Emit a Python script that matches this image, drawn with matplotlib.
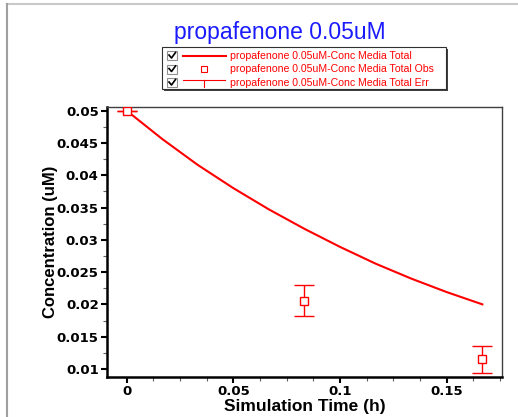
import matplotlib
matplotlib.use("Agg")
import matplotlib.pyplot as plt
from matplotlib.patches import Rectangle
from matplotlib.ticker import AutoMinorLocator

# simulated curve
sim_time = [0, 0.0167, 0.0333, 0.05, 0.0667, 0.0833, 0.1, 0.1167, 0.1333, 0.15, 0.1667]
sim_conc = [0.050, 0.0456, 0.0416, 0.0380, 0.0347, 0.0317, 0.0289, 0.0263, 0.0240, 0.0219, 0.0200]

# observations with error
obs_time = [0, 0.0833, 0.1667]
obs_conc = [0.050, 0.02055, 0.0115]
obs_err = [0, 0.0024, 0.0021]

title = "propafenone 0.05uM"
legend_labels = [
    "propafenone 0.05uM-Conc Media Total",
    "propafenone 0.05uM-Conc Media Total Obs",
    "propafenone 0.05uM-Conc Media Total Err",
]
x_ticks = [0, 0.05, 0.1, 0.15]
y_ticks = [0.01, 0.015, 0.02, 0.025, 0.03, 0.035, 0.04, 0.045, 0.05]
red = "#ff0000"

plt.rcParams["font.family"] = ["Liberation Sans", "DejaVu Sans"]

fig = plt.figure(figsize=(5.18, 4.17), dpi=100)
ax = fig.add_axes([107 / 518, 40 / 417, 395 / 518, 270 / 417])

ax.plot(sim_time, sim_conc, color=red, lw=1.5, zorder=3)
ax.errorbar(obs_time, obs_conc, yerr=obs_err, fmt="s", mfc="white", mec=red,
            ecolor=red, ms=6, mew=1, elinewidth=1, capsize=7, capthick=1, zorder=4)

ax.set_xlim(-0.00923, 0.1759)
ax.set_ylim(0.00875, 0.05057)
ax.set_xticks(x_ticks)
ax.set_xticklabels([f"{v:g}" for v in x_ticks])
ax.xaxis.set_minor_locator(AutoMinorLocator(4))
ax.set_yticks(y_ticks)
ax.set_yticklabels([f"{v:g}" for v in y_ticks])
ax.yaxis.set_minor_locator(AutoMinorLocator(2))

for lab in ax.get_xticklabels() + ax.get_yticklabels():
    lab.set_fontweight("bold")
    lab.set_family("DejaVu Sans")
    lab.set_fontsize(9.5)
ax.tick_params(which="major", direction="out", length=4, width=1.5, color="black", pad=2)
ax.tick_params(which="minor", direction="out", length=3, width=0.8, color="#606060")

for side in ("left", "bottom"):
    ax.spines[side].set_linewidth(1.8)
    ax.spines[side].set_color("black")
for side in ("top", "right"):
    ax.spines[side].set_linewidth(1.0)
    ax.spines[side].set_color("#404040")

ax.set_xlabel("Simulation Time (h)", fontsize=12.5, fontweight="bold")
ax.xaxis.set_label_coords(0.5, -0.081)
ax.set_ylabel("Concentration (uM)", fontsize=12, fontweight="bold")
ax.yaxis.set_label_coords(-0.123, 0.5)

fig.text(280 / 518, 1 - 32 / 417, title, color="#1a1aff", fontsize=16.5,
         ha="center", va="center")

# overlay in pixel coordinates for the legend box and the outer border
oax = fig.add_axes([0, 0, 1, 1])
oax.set_xlim(0, 518)
oax.set_ylim(417, 0)
oax.axis("off")
oax.patch.set_alpha(0)

oax.plot([7, 518], [4, 4], color="#c8c8c8", lw=1.5)
oax.plot([7, 7], [4, 417], color="#a0a0a0", lw=1.5)

oax.add_patch(Rectangle((164, 49), 284, 42, fc="#404040", ec="none"))
oax.add_patch(Rectangle((162, 47), 284, 42, fc="white", ec="#303030", lw=0.8))

rows = [55.5, 69, 82.5]
for y, label in zip(rows, legend_labels):
    oax.add_patch(Rectangle((167, y - 4.5), 10, 9, fc="white", ec="#909090", lw=0.8))
    oax.plot([169, 171.5, 175.5], [y - 0.5, y + 2.5, y - 3], color="black", lw=1.2)
    oax.text(230, y, label, color=red, fontsize=7.6, va="center", ha="left")

oax.plot([183, 226], [rows[0], rows[0]], color=red, lw=1.5)
oax.plot([204], [rows[1]], marker="s", ms=4, mfc="white", mec=red, mew=0.8)
oax.plot([183, 225], [rows[2] - 3, rows[2] - 3], color=red, lw=0.8)
oax.plot([204, 204], [rows[2] - 3, rows[2] + 4], color=red, lw=0.8)

fig.savefig("out.png", dpi=100)
